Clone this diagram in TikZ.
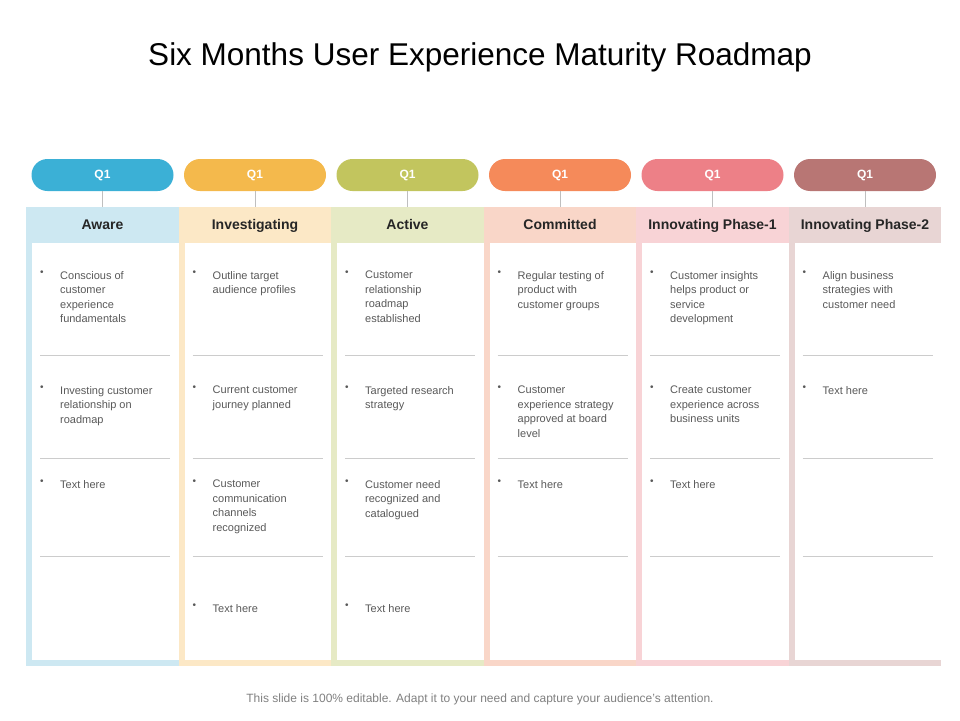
\documentclass[tikz,border=0pt]{standalone}
\usepackage{fontspec}
\setmainfont{Liberation Sans}
\usetikzlibrary{positioning}
\definecolor{ColA}{HTML}{3BB0D6}
\definecolor{ColB}{HTML}{F4B94C}
\definecolor{ColC}{HTML}{C2C55E}
\definecolor{ColD}{HTML}{F58A5A}
\definecolor{ColE}{HTML}{ED8087}
\definecolor{ColF}{HTML}{B87674}
\definecolor{LigA}{HTML}{CDE8F2}
\definecolor{LigB}{HTML}{FCE8C6}
\definecolor{LigC}{HTML}{E6EAC5}
\definecolor{LigD}{HTML}{F9D6C8}
\definecolor{LigE}{HTML}{F8D3D6}
\definecolor{LigF}{HTML}{E8D5D4}
\definecolor{TxtG}{HTML}{595959}
\tikzstyle{Pill}=[rounded corners=16pt,minimum width=142pt,minimum height=32pt,
  inner sep=0pt,font=\fontsize{12}{14}\selectfont\bfseries,text=white]
\tikzstyle{Head}=[font=\fontsize{14}{16}\selectfont\bfseries,text=black!85,
  text height=11pt,text depth=3pt,inner sep=0pt]
\tikzstyle{Item}=[anchor=north west,inner sep=0pt,text width=100pt,
  align=flush left,font=\fontsize{11}{14.5}\selectfont,text=TxtG]
\tikzstyle{Dot}=[anchor=north west,inner sep=0pt,font=\fontsize{10}{14.5}\selectfont,text=TxtG]
\tikzstyle{Rule}=[draw=black!20,line width=0.8pt]
\newcommand{\bul}[4]{% col x, y, name, text
  \node[Dot](d#3)at(#1+14,#2){•};
  \node[Item](t#3)at(#1+34,#2){#4};}
\begin{document}
\hyphenpenalty=10000 \exhyphenpenalty=10000
\begin{tikzpicture}[x=1pt,y=-1pt]
\useasboundingbox (0,0) rectangle (960,720);
\node(title)at(480,57){\fontsize{31.5}{36}\selectfont Six Months User Experience Maturity Roadmap};
\foreach \i/\x/\c/\h in {1/26/A/Aware,2/178.5/B/Investigating,3/331/C/Active,
    4/483.5/D/Committed,5/636/E/Innovating Phase-1,6/788.5/F/Innovating Phase-2}{
  \fill[Lig\c](\x,207) rectangle (\x+152.5,243);
  \fill[Lig\c](\x,207) rectangle (\x+6,666);
  \fill[Lig\c](\x,660) rectangle (\x+152.5,666);
  \node[Head](h\i)at(\x+76.5,225){\h};
  \node[Pill,fill=Col\c](p\i)at(\x+76.5,175){Q1};
  \coordinate(k\i)at(\x+76.5,207);
  \draw[draw=black!25](p\i.south)--(k\i);
  \foreach \yy in {355,458,556}
    \draw[Rule](\x+14,\yy)--(\x+144,\yy);
}
% column texts
\bul{26}{271}{a1}{Conscious of customer experience fundamentals}
\bul{26}{386}{a2}{Investing customer relationship on roadmap}
\bul{26}{480}{a3}{Text here}
\bul{178.5}{271}{b1}{Outline target audience profiles}
\bul{178.5}{386}{b2}{Current customer journey planned}
\bul{178.5}{480}{b3}{Customer communication channels recognized}
\bul{178.5}{604}{b4}{Text here}
\bul{331}{271}{c1}{Customer relationship roadmap established}
\bul{331}{386}{c2}{Targeted research strategy}
\bul{331}{480}{c3}{Customer need recognized and catalogued}
\bul{331}{604}{c4}{Text here}
\bul{483.5}{271}{e1}{Regular testing of product with customer groups}
\bul{483.5}{386}{e2}{Customer experience strategy approved at board level}
\bul{483.5}{480}{e3}{Text here}
\bul{636}{271}{f1}{Customer insights helps product or service development}
\bul{636}{386}{f2}{Create customer experience across business units}
\bul{636}{480}{f3}{Text here}
\bul{788.5}{271}{g1}{Align business strategies with customer need}
\bul{788.5}{386}{g2}{Text here}
\node[text=black!50,font=\fontsize{12}{14}\selectfont](foot)at(480,699)
  {This slide is 100\% editable. Adapt it to your need and capture your audience’s attention.};
\end{tikzpicture}
\end{document}
